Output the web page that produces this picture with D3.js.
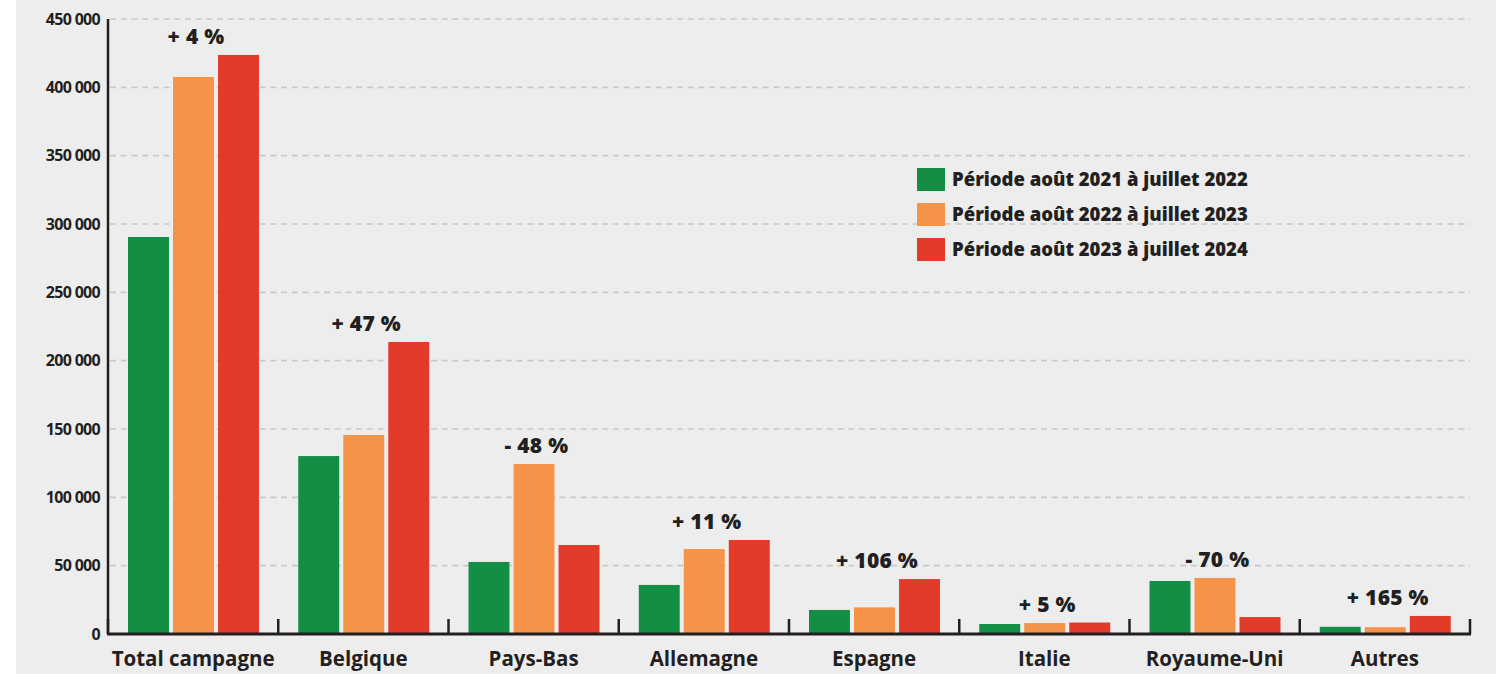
<!DOCTYPE html>
<html>
<head>
<meta charset="utf-8">
<script src="https://cdn.jsdelivr.net/npm/d3@7"></script>
<style>
  body { margin: 0; background: #fff; }
  svg { display: block; }
  text { font-family: 'Open Sans', 'DejaVu Sans', sans-serif; fill: #231f20; }
</style>
</head>
<body>
<div id="chart"></div>
<script>
// categories and series (visitors per period)
const categories = ['Total campagne', 'Belgique', 'Pays-Bas', 'Allemagne', 'Espagne', 'Italie', 'Royaume-Uni', 'Autres']
const periods = ['Période août 2021 à juillet 2022', 'Période août 2022 à juillet 2023', 'Période août 2023 à juillet 2024']
const values2122 = [290500, 130200, 52700, 35900, 17600, 7300, 38800, 5300]
const values2223 = [407600, 145600, 124400, 62200, 19500, 8000, 41000, 5000]
const values2324 = [423700, 213700, 65100, 68800, 40200, 8400, 12400, 13200]
const variations = ['+ 4 %', '+ 47 %', '- 48 %', '+ 11 %', '+ 106 %', '+ 5 %', '- 70 %', '+ 165 %']
const yTicks = [0, 50000, 100000, 150000, 200000, 250000, 300000, 350000, 400000, 450000]
const colors = ['#128f45', '#f59448', '#e33b2a']

const series = [values2122, values2223, values2324]

const W = 1496, H = 674
const margin = { top: 19, right: 26, bottom: 40, left: 108 }
const width = W - margin.left - margin.right
const height = H - margin.top - margin.bottom

const root = d3.select('#chart').append('svg')
  .attr('width', W)
  .attr('height', H)

// grey panel
root.append('rect')
  .attr('x', 16).attr('y', 0)
  .attr('width', W - 16).attr('height', H)
  .attr('fill', '#ededed')

const svg = root.append('g')
  .attr('transform', `translate(${margin.left}, ${margin.top})`)

const x = d3.scaleBand().domain(categories).range([0, width]).paddingInner(0).paddingOuter(0)
const xInner = d3.scaleBand().domain(d3.range(series.length)).range([20, 151]).paddingInner(0.09)
const y = d3.scaleLinear().domain([0, 450000]).range([height, 0])

// gridlines
svg.append('g')
  .selectAll('line')
  .data(yTicks.filter(d => d > 0))
  .join('line')
  .attr('x1', 2)
  .attr('x2', width)
  .attr('y1', d => y(d))
  .attr('y2', d => y(d))
  .attr('stroke', '#c9c9c9')
  .attr('stroke-width', 1.6)
  .attr('stroke-dasharray', '6 4.7')

// y tick labels
svg.append('g')
  .selectAll('text')
  .data(yTicks)
  .join('text')
  .attr('x', -8)
  .attr('y', d => y(d))
  .attr('dy', '0.36em')
  .attr('text-anchor', 'end')
  .style('font-size', '16px')
  .style('font-weight', 700)
  .style('letter-spacing', '-0.7px')
  .text(d => d === 0 ? '0' : d3.format(',')(d).replace(/,/g, ' '))

// bars
const groups = svg.append('g')
  .selectAll('g')
  .data(categories)
  .join('g')
  .attr('transform', d => `translate(${x(d)}, 0)`)

groups.selectAll('rect')
  .data((d, i) => series.map((s, k) => ({ k, v: s[i] })))
  .join('rect')
  .attr('x', d => xInner(d.k))
  .attr('width', xInner.bandwidth())
  .attr('y', d => y(d.v))
  .attr('height', d => y(0) - y(d.v))
  .attr('fill', d => colors[d.k])

// variation labels
groups.append('text')
  .attr('x', 85 + 3)
  .attr('y', (d, i) => y(d3.max(series, s => s[i])) - 11)
  .attr('text-anchor', 'middle')
  .style('font-size', '21px')
  .style('font-weight', 800)
  .style('letter-spacing', '0.3px')
  .text((d, i) => variations[i])

// axes
svg.append('line')
  .attr('x1', 0).attr('x2', 0)
  .attr('y1', 0).attr('y2', height)
  .attr('stroke', '#231f20').attr('stroke-width', 2.5)

svg.append('line')
  .attr('x1', -1).attr('x2', width + 1)
  .attr('y1', height).attr('y2', height)
  .attr('stroke', '#231f20').attr('stroke-width', 3)

svg.append('g')
  .selectAll('line')
  .data(d3.range(categories.length + 1))
  .join('line')
  .attr('x1', d => d * x.bandwidth())
  .attr('x2', d => d * x.bandwidth())
  .attr('y1', height - 15)
  .attr('y2', height)
  .attr('stroke', '#231f20')
  .attr('stroke-width', 2.5)

// category labels
svg.append('g')
  .selectAll('text')
  .data(categories)
  .join('text')
  .attr('x', d => x(d) + x.bandwidth() / 2)
  .attr('y', height + 32)
  .attr('text-anchor', 'middle')
  .style('font-size', '20.5px')
  .style('font-weight', 700)
  .style('letter-spacing', '0px')
  .text(d => d)

// legend
const legend = root.append('g')
  .attr('transform', 'translate(917, 168)')

const item = legend.selectAll('g')
  .data(periods)
  .join('g')
  .attr('transform', (d, i) => `translate(0, ${i * 35})`)

item.append('rect')
  .attr('width', 28)
  .attr('height', 23)
  .attr('fill', (d, i) => colors[i])

item.append('text')
  .attr('x', 35)
  .attr('y', 18)
  .style('font-size', '18.5px')
  .style('font-weight', 800)
  .style('letter-spacing', '0px')
  .text(d => d)
</script>
</body>
</html>
